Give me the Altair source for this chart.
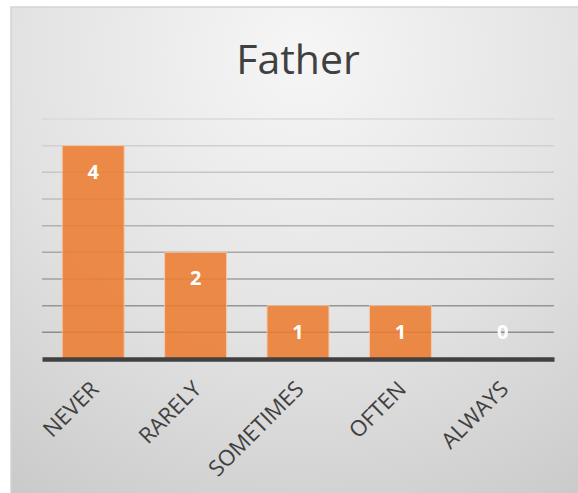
import altair as alt
import pandas as pd

# Responses for "Father"
categories = ["NEVER", "RARELY", "SOMETIMES", "OFTEN", "ALWAYS"]
counts = [4, 2, 1, 1, 0]
grid_levels = [0.5, 1.0, 1.5, 2.0, 2.5, 3.0, 3.5, 4.0, 4.5]

W, H = 512, 240
FONT = "Open Sans"

df = pd.DataFrame({"answer": categories, "count": counts})
grid_df = pd.DataFrame({"level": grid_levels})

x_scale = alt.Scale(domain=categories, paddingInner=0.395, paddingOuter=0.1975)
y_scale = alt.Scale(domain=[0, 4.5], nice=False, zero=True)

# chart frame with soft radial shading
frame = alt.Chart(alt.Data(values=[{}])).mark_rect(
    color={
        "gradient": "radial",
        "x1": 0.5, "y1": 0.15, "r1": 0.0,
        "x2": 0.5, "y2": 0.15, "r2": 1.0,
        "stops": [
            {"offset": 0.0, "color": "#f6f6f6"},
            {"offset": 0.5, "color": "#e2e2e2"},
            {"offset": 1.0, "color": "#c4c4c4"},
        ],
    },
    stroke="#d4d4d4",
    strokeWidth=1.5,
).encode(
    x=alt.value(-31), x2=alt.value(W + 40),
    y=alt.value(-112), y2=alt.value(H + 150),
)

# horizontal gridlines, darker toward the baseline
grid = alt.Chart(grid_df).mark_rule(strokeWidth=1.5).encode(
    y=alt.Y("level:Q", scale=y_scale, axis=None),
    x=alt.value(0), x2=alt.value(W),
    color=alt.Color("level:Q", scale=alt.Scale(domain=[0.5, 4.5], range=["#8c8c8c", "#dadada"]), legend=None),
)

bars = alt.Chart(df).mark_bar(
    color="#ED7D31", opacity=0.88, stroke="#f7c7a3", strokeWidth=1,
).encode(
    x=alt.X("answer:N", scale=x_scale, sort=categories,
            axis=alt.Axis(title=None, labelAngle=-45, ticks=False, domain=True,
                          domainColor="#404040", domainWidth=4.5,
                          labelFont=FONT, labelFontSize=22, labelColor="#404040",
                          labelPadding=19, labelOffset=-5, grid=False, zindex=2)),
    y=alt.Y("count:Q", scale=y_scale, axis=None),
)

labels = alt.Chart(df).transform_calculate(
    pos="max(datum.count, 1)"
).mark_text(
    font=FONT, fontSize=20, fontWeight="bold", color="white", dy=27, baseline="middle",
).encode(
    x=alt.X("answer:N", scale=x_scale, sort=categories),
    y=alt.Y("pos:Q", scale=y_scale),
    text=alt.Text("count:Q"),
)

chart = alt.layer(frame, grid, bars, labels).properties(
    width=W, height=H,
    title=alt.TitleParams("Father", font=FONT, fontSize=41, fontWeight="normal",
                          color="#404040", anchor="middle", offset=-77, zindex=2),
    autosize=alt.AutoSizeParams(type="none"),
    padding={"left": 42, "top": 119, "right": 24, "bottom": 134},
    background="white",
).configure_view(stroke=None)

chart.save("out.html", embed_options={"renderer": "svg", "actions": False})
